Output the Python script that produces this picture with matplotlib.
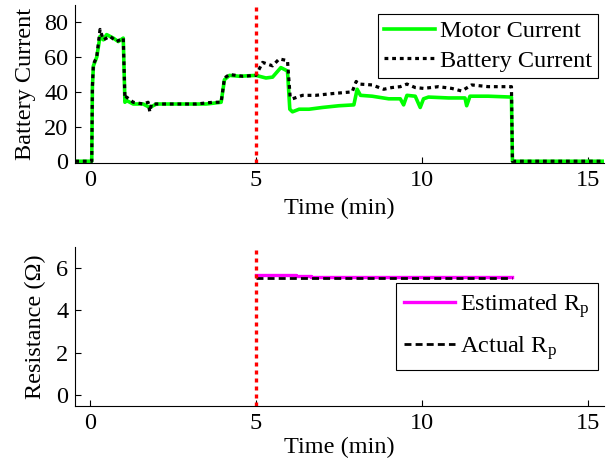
import matplotlib
matplotlib.use("Agg")
import matplotlib.pyplot as plt

plt.rcParams['font.family'] = ['Liberation Serif', 'DejaVu Serif']
plt.rcParams['mathtext.fontset'] = 'custom'
plt.rcParams['mathtext.rm'] = 'Liberation Serif'
plt.rcParams['mathtext.it'] = 'Liberation Serif:italic'

# motor current (A) vs time (min)
motor_t = [-0.45, 0.05, 0.07, 0.1, 0.2, 0.3, 0.4, 0.5, 0.7, 0.85, 1.0, 1.05, 1.1, 1.3, 1.6,
           1.8, 2.0, 2.5, 3.0, 3.5, 3.95, 4.05, 4.2, 4.5, 5.0, 5.3, 5.5, 5.75, 5.95, 6.02,
           6.1, 6.3, 6.6, 7.0, 7.5, 7.95, 8.05, 8.15, 8.5, 9.0, 9.35, 9.45, 9.55, 9.8, 9.95,
           10.05, 10.2, 10.8, 11.3, 11.35, 11.45, 12.0, 12.7, 12.73, 15.55]
motor_i = [0, 0, 43, 55, 60, 72, 70, 73, 71, 69, 71, 34, 35, 33, 33,
           31, 33, 33, 33, 33, 34, 47, 49.5, 49, 49.5, 48, 48.5, 54, 52, 30,
           28.5, 30, 30, 31, 32, 32.5, 41.5, 38, 37.5, 36, 36, 32.5, 38, 37.5, 31,
           36, 37, 36.5, 36.5, 32, 37.5, 37.5, 37, 0, 0]

# battery current
batt_t = [-0.45, 0.05, 0.07, 0.1, 0.2, 0.3, 0.4, 0.6, 0.8, 1.0, 1.05, 1.1, 1.3, 1.6, 1.75,
          1.8, 1.85, 2.2, 2.7, 3.2, 3.7, 3.95, 4.05, 4.2, 4.6, 5.0, 5.2, 5.5, 5.7, 5.95,
          6.03, 6.1, 6.4, 6.8, 7.3, 7.9, 8.02, 8.1, 8.5, 8.85, 9.1, 9.35, 9.55, 9.8, 10.05,
          10.5, 10.9, 11.2, 11.5, 12.0, 12.7, 12.73, 15.55]
batt_i = [0, 0, 43, 56, 60, 76, 70, 72, 69, 71, 36, 37, 34, 33, 34,
          28.5, 33, 33, 33, 33, 34, 34, 48, 50, 49, 49.5, 57, 55, 59, 58,
          37, 36, 38, 38, 39, 40, 46, 44.5, 44, 41.5, 42.5, 43, 44.5, 42.5, 42,
          43, 42, 40.5, 44, 43, 43, 0, 0]

# resistance estimate (ohm)
est_t = [5.0, 6.2, 6.2, 6.65, 6.65, 12.72]
est_r = [5.65, 5.65, 5.62, 5.62, 5.55, 5.55]
act_t = [5.0, 12.72]
act_r = [5.5, 5.5]

switch_time = 5.0

fs = 17.5
fig = plt.figure(figsize=(6.16, 4.67), dpi=100)
ax1 = fig.add_axes([0.122, 0.651, 0.858, 0.338])
ax2 = fig.add_axes([0.122, 0.131, 0.858, 0.341])

dot = (0, (1.2, 1.2))

ax1.plot(motor_t, motor_i, color='#00FF00', lw=2.6, label='Motor Current')
ax1.plot(batt_t, batt_i, color='black', lw=2.3, linestyle=dot, label='Battery Current')
ax1.axvline(switch_time, color='#FF0000', lw=2.4, linestyle=dot)
ax1.set_xlim(-0.45, 15.48)
ax1.set_ylim(-1, 90)
ax1.set_yticks([0, 20, 40, 60, 80])
ax1.set_xticks([0, 5, 10, 15])
ax1.set_xlabel('Time (min)', fontsize=fs, labelpad=5)
ax1.set_ylabel('Battery Current', fontsize=fs, labelpad=6)
leg1 = ax1.legend(loc='upper right', bbox_to_anchor=(0.989, 0.943), fontsize=fs,
                  frameon=True, fancybox=False, handlelength=2.1, handletextpad=0.2,
                  labelspacing=0.3, borderpad=0.25, borderaxespad=0)

ax2.plot(est_t, est_r, color='#FF00FF', lw=2.4, label=r'Estimated R$_\mathrm{p}$')
ax2.plot(act_t, act_r, color='black', lw=2.0, linestyle=(0, (2.5, 1.5)), label=r'Actual R$_\mathrm{p}$')
ax2.axvline(switch_time, color='#FF0000', lw=2.4, linestyle=dot)
ax2.set_xlim(-0.45, 15.48)
ax2.set_ylim(-0.5, 7)
ax2.set_yticks([0, 2, 4, 6])
ax2.set_xticks([0, 5, 10, 15])
ax2.set_xlabel('Time (min)', fontsize=fs, labelpad=2)
ax2.set_ylabel('Resistance (\u03a9)', fontsize=fs, labelpad=7)
leg2 = ax2.legend(loc='upper right', bbox_to_anchor=(0.989, 0.770), fontsize=fs,
                  frameon=True, fancybox=False, handlelength=2.1, handletextpad=0.2,
                  labelspacing=0.6, borderpad=0.35, borderaxespad=0)

for leg in (leg1, leg2):
    leg.get_frame().set_edgecolor('black')
    leg.get_frame().set_linewidth(0.8)
    leg.get_frame().set_alpha(1)

for ax in (ax1, ax2):
    ax.spines['top'].set_visible(False)
    ax.spines['right'].set_visible(False)
    ax.tick_params(direction='in', length=4, labelsize=fs, pad=5)

fig.savefig('out.png', dpi=100)
